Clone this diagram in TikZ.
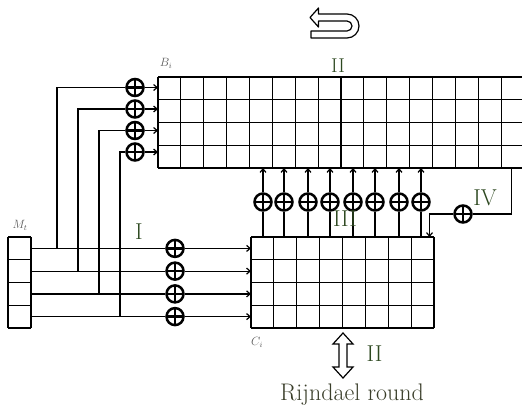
\documentclass[tikz,border=0pt]{standalone}
\usepackage{fontspec}
\usepackage{tikz}
\usetikzlibrary{arrows.meta}
\definecolor{numcol}{RGB}{45,72,32}
\definecolor{roundcol}{RGB}{58,62,42}
\definecolor{labcol}{RGB}{90,90,90}
\tikzset{
  cell/.style={line width=1.2pt},
  wire/.style={line width=1.2pt},
  xor/.style={circle,draw,line width=2.5pt,minimum size=17pt,inner sep=0pt,
    path picture={\draw[line width=2.4pt]
      (path picture bounding box.north)--(path picture bounding box.south)
      (path picture bounding box.west)--(path picture bounding box.east);}},
  numlab/.style={text=numcol,font=\fontsize{23}{27}\selectfont,inner sep=0pt},
  matlab/.style={text=labcol,font=\fontsize{12}{14}\selectfont,inner sep=0pt}
}
\begin{document}
\begin{tikzpicture}[x=1pt,y=-1pt,>={Straight Barb[length=3.5pt,width=6pt]}]
 \useasboundingbox (0,0) rectangle (522,405);
 \clip (0,0) rectangle (522,405);
 % state B_i (runs off to the right)
 \foreach \c in {0,...,16}{\draw[cell] ({158+\c*22.875},77) -- ++(0,91);}
 \foreach \r in {0,...,4}{\draw[cell] (158,{77+\r*22.75}) -- (526,{77+\r*22.75});}
 % state C_i
 \foreach \c in {0,...,8}{\draw[cell] ({251+\c*22.875},237) -- ++(0,91);}
 \foreach \r in {0,...,4}{\draw[cell] (251,{237+\r*22.75}) -- (434,{237+\r*22.75});}
 % message block M_t
 \foreach \r in {0,...,4}{\draw[cell] (8,{237+\r*22.75}) -- (31,{237+\r*22.75});}
 \draw[cell] (8,237) -- (8,328) (31,237) -- (31,328);
 \node[matlab] (bi) at (166,63) {$B_i$};
 \node[matlab] (ci) at (257,342) {$C_i$};
 \node[matlab] (mt) at (20,225) {$M_t$};
 % I: message into C_i, branches into B_i
 \foreach \yc/\xb/\yb [count=\i] in {248.4/57/87.5,271.1/78/109,293.9/99/130.5,316.6/120/152}{
  \coordinate (m\i) at (31,\yc);
  \coordinate (c\i) at (251,\yc);
  \coordinate (br\i) at (\xb,\yc);
  \coordinate (b\i) at (158,\yb);
  \node[xor] (xl\i) at (175,\yc) {};
  \node[xor] (xb\i) at (135,\yb) {};
  \draw[wire] (m\i) -- (xl\i);
  \draw[wire,->] (xl\i) -- (c\i);
  \draw[wire] (br\i) |- (xb\i);
  \draw[wire,->] (xb\i) -- (b\i);
 }
 % III: C_i into B_i
 \foreach \x [count=\j] in {263,284,308,330,353,375,399,421}{
  \coordinate (cu\j) at (\x,237);
  \coordinate (bd\j) at (\x,168);
  \node[xor] (xv\j) at (\x,202) {};
  \draw[wire] (cu\j) -- (xv\j);
  \draw[wire,->] (xv\j) -- (bd\j);
 }
 % IV: B_i back into C_i
 \coordinate (ivs) at (511.5,168);
 \coordinate (ive) at (429.5,237);
 \node[xor] (xiv) at (463,214) {};
 \draw[wire] (ivs) |- (xiv);
 \draw[wire,->] (xiv) -| (ive);
 % labels
 \node[numlab] (one) at (139,232) {I};
 \node[numlab,font=\fontsize{20}{24}\selectfont] (two) at (338,65.5) {II};
 \node[numlab] (three) at (345,218.5) {III};
 \node[numlab] (four) at (485,198) {IV};
 \node[numlab] (twob) at (374.5,353.5) {II};
 \node[text=roundcol,font=\fontsize{24}{28}\selectfont,inner sep=0pt,anchor=base] (rnd) at (352,400) {Rijndael round};
 % turn-back arrow
 \draw[line width=1.2pt,line join=round] (310,17.5) -- (318.5,8) -- (318.5,14) -- (347,14)
  arc[start angle=-90,end angle=90,radius=12] -- (311,38) -- (311,31) -- (347,31)
  arc[start angle=90,end angle=-90,radius=5] -- (318.5,21) -- (318.5,27) -- cycle;
 % round double arrow
 \draw[line width=1.2pt,line join=miter] (343,333) -- (353,344) -- (347,344) -- (347,367)
  -- (353,367) -- (343,378) -- (333,367) -- (339,367) -- (339,344) -- (333,344) -- cycle;
\end{tikzpicture}
\end{document}
